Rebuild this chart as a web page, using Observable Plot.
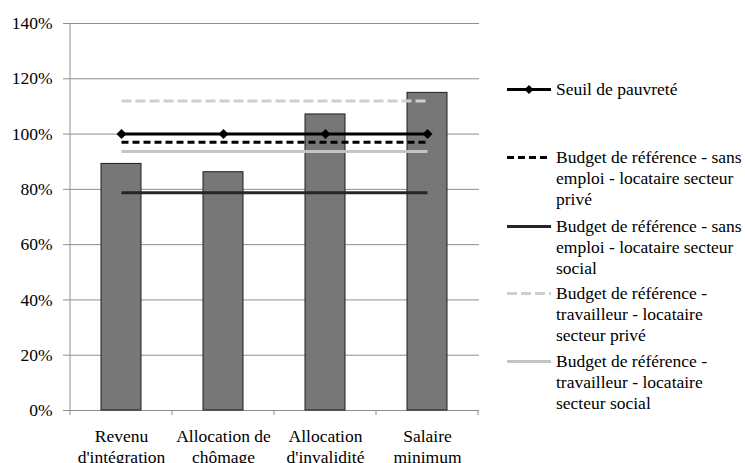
<!DOCTYPE html>
<html>
<head>
<meta charset="utf-8">
<script src="https://cdn.jsdelivr.net/npm/d3@7"></script>
<script src="https://cdn.jsdelivr.net/npm/@observablehq/plot@0.6"></script>
<style>
  html, body { margin: 0; padding: 0; background: #fff; }
  #wrap { position: relative; width: 745px; height: 463px; overflow: hidden; font-family: 'Liberation Serif', 'Times New Roman', Times, serif; }
  .leg { position: absolute; left: 507px; display: flex; align-items: flex-start; font-size: 17.5px; line-height: 21px; color: #000; white-space: pre; font-family: 'Liberation Serif', 'Times New Roman', Times, serif; }
  .leg svg { flex: none; margin-right: 5px; }
</style>
</head>
<body>
<div id="wrap"></div>
<script>
// ---- data ----
const categories = ["Revenu d'intégration", "Allocation de chômage", "Allocation d'invalidité", "Salaire minimum"];
const categoryLabels = ["Revenu\nd'intégration", "Allocation de\nchômage", "Allocation\nd'invalidité", "Salaire\nminimum"];
const revenuRatio = [0.892, 0.862, 1.071, 1.149];
const seuilPauvrete = [1.0, 1.0, 1.0, 1.0];
const budgetSansEmploiPrive = [0.97, 0.97, 0.97, 0.97];
const budgetSansEmploiSocial = [0.788, 0.788, 0.788, 0.788];
const budgetTravailleurPrive = [1.12, 1.12, 1.12, 1.12];
const budgetTravailleurSocial = [0.937, 0.937, 0.937, 0.937];
const yTicks = [0, 0.2, 0.4, 0.6, 0.8, 1.0, 1.2, 1.4];
const legendLabels = [
  "Seuil de pauvreté",
  "Budget de référence - sans\nemploi - locataire secteur\nprivé",
  "Budget de référence - sans\nemploi - locataire secteur\nsocial",
  "Budget de référence -\ntravailleur - locataire\nsecteur privé",
  "Budget de référence -\ntravailleur - locataire\nsecteur social"
];

// ---- styles ----
const FONT = "'Liberation Serif', 'Times New Roman', Times, serif";
const seriesStyles = [
  {stroke: "#000000", dash: null, marker: true},
  {stroke: "#000000", dash: "7,4", marker: false},
  {stroke: "#262626", dash: null, marker: false},
  {stroke: "#cfcfcf", dash: "10,4", marker: false},
  {stroke: "#c4c4c4", dash: null, marker: false}
];
const seriesValues = [seuilPauvrete, budgetSansEmploiPrive, budgetSansEmploiSocial, budgetTravailleurPrive, budgetTravailleurSocial];
const legendTops = [78.5, 146.5, 215.5, 282.5, 350.5];

const barData = categories.map((c, i) => ({cat: c, v: revenuRatio[i]}));
const lineMarks = [];
seriesValues.forEach((vals, s) => {
  const d = categories.map((c, i) => ({cat: c, v: vals[i]}));
  const st = seriesStyles[s];
  lineMarks.push(Plot.lineY(d, {x: "cat", y: "v", stroke: st.stroke, strokeWidth: 3, strokeDasharray: st.dash || undefined, strokeLinecap: "butt"}));
  if (st.marker) lineMarks.push(Plot.dot(d, {x: "cat", y: "v", symbol: "diamond2", r: 4.5, fill: st.stroke, stroke: "none"}));
});

const chart = Plot.plot({
  width: 745,
  height: 463,
  marginLeft: 68,
  marginRight: 266,
  marginTop: 23,
  marginBottom: 53,
  style: {fontFamily: FONT, fontSize: "17.5px", background: "white", color: "black", overflow: "visible"},
  x: {domain: categories, padding: 0},
  y: {domain: [0, 1.4]},
  marks: [
    Plot.gridY(yTicks, {stroke: "#8e8e8e", strokeOpacity: 1, strokeWidth: 1}),
    Plot.axisY(yTicks, {tickSize: 5, tickPadding: 11, stroke: "#8e8e8e", tickFormat: d3.format(".0%"), label: null}),
    Plot.axisX({tickSize: 0, tickPadding: 17, tickFormat: (d) => categoryLabels[categories.indexOf(d)], lineHeight: 1.2, label: null}),
    Plot.barY(barData, {x: "cat", y: "v", fill: "#777777", stroke: "#1e1e1e", strokeWidth: 1, insetLeft: 31, insetRight: 31}),
    ...lineMarks
  ]
});

// axis line + boundary ticks drawn with the chart's own scales
const sx = chart.scale("x"), sy = chart.scale("y");
const svg = d3.select(chart);
const g = svg.append("g").attr("stroke", "#8e8e8e").attr("stroke-width", 1);
const x0 = sx.apply(categories[0]);
g.append("line").attr("x1", x0).attr("x2", x0).attr("y1", sy.apply(1.4)).attr("y2", sy.apply(0) + 5);
categories.forEach((c) => {
  const xb = sx.apply(c) + sx.bandwidth;
  g.append("line").attr("x1", xb).attr("x2", xb).attr("y1", sy.apply(0)).attr("y2", sy.apply(0) + 5);
});
const first = chart.querySelector("g[aria-label='bar']");
if (first) chart.insertBefore(g.node(), first);

const wrap = document.getElementById("wrap");
wrap.appendChild(chart);

// legend
legendLabels.forEach((lab, s) => {
  const st = seriesStyles[s];
  const item = document.createElement("div");
  item.className = "leg";
  item.style.top = legendTops[s] + "px";
  const ns = "http://www.w3.org/2000/svg";
  const sw = document.createElementNS(ns, "svg");
  sw.setAttribute("width", 44); sw.setAttribute("height", 21);
  const ln = document.createElementNS(ns, "line");
  ln.setAttribute("x1", 0); ln.setAttribute("x2", 44); ln.setAttribute("y1", 10.5); ln.setAttribute("y2", 10.5);
  ln.setAttribute("stroke", st.stroke); ln.setAttribute("stroke-width", 3);
  if (st.dash) ln.setAttribute("stroke-dasharray", st.dash);
  sw.appendChild(ln);
  if (st.marker) {
    const p = document.createElementNS(ns, "path");
    p.setAttribute("d", "M22,6L26.5,10.5L22,15L17.5,10.5Z");
    p.setAttribute("fill", st.stroke);
    sw.appendChild(p);
  }
  item.appendChild(sw);
  const t = document.createElement("span");
  t.textContent = lab;
  item.appendChild(t);
  wrap.appendChild(item);
});
</script>
</body>
</html>
